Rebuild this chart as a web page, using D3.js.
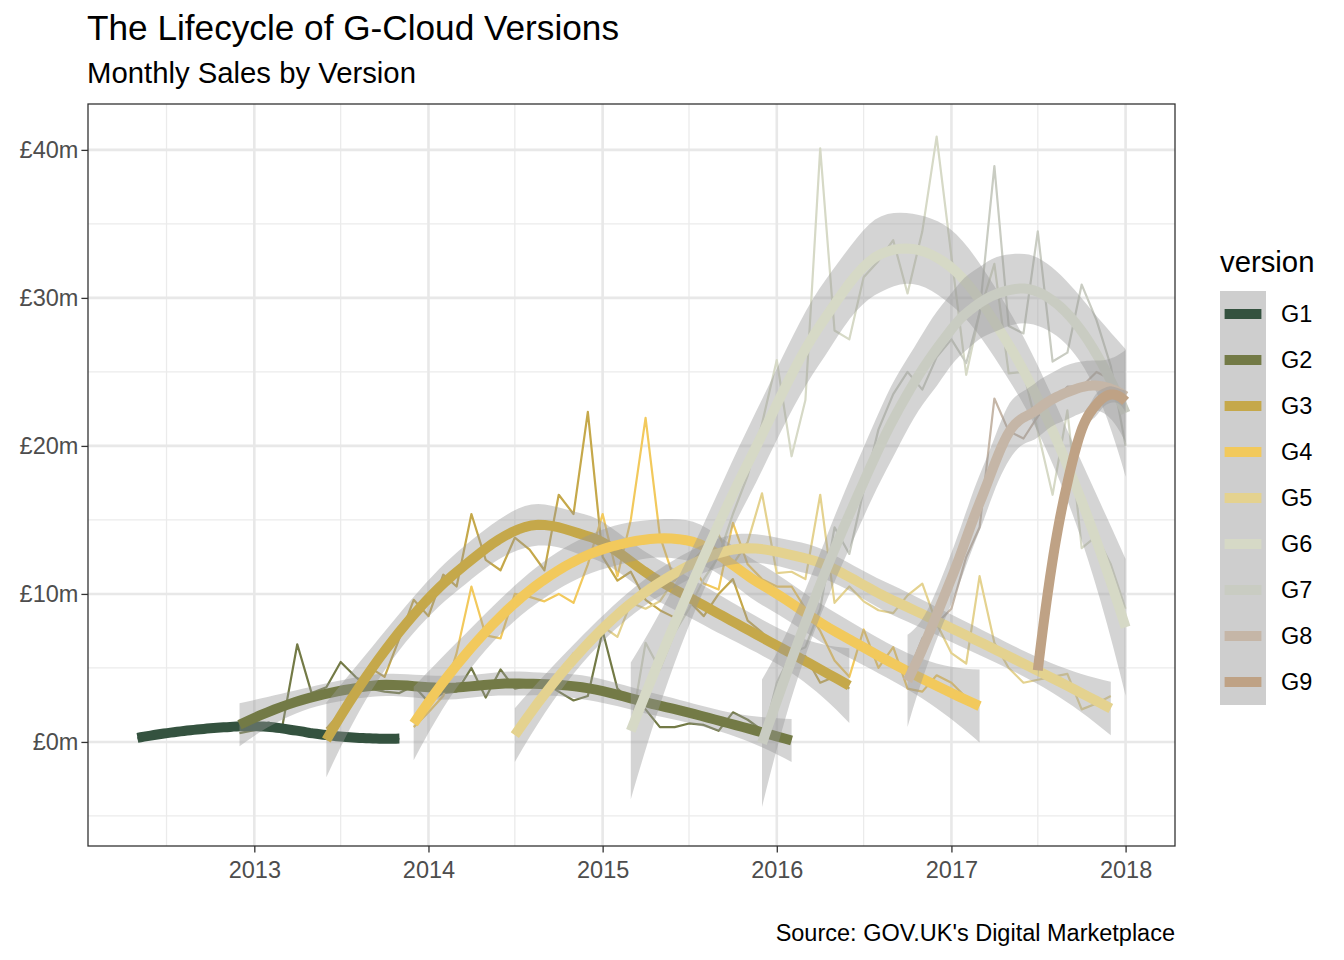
<!DOCTYPE html>
<html><head><meta charset="utf-8">
<script src="https://cdn.jsdelivr.net/npm/d3@7"></script>
<style>
body{margin:0;background:#fff}
text{font-family:"Liberation Sans",Arial,Helvetica,sans-serif}
</style>
</head><body>
<svg id="chart" width="1344" height="960"></svg>
<script>
// ---------------- data (monthly sales, £m) ----------------
const versions = ["G1","G2","G3","G4","G5","G6","G7","G8","G9"];
const colours  = ["#34523F","#737A46","#C5A84A","#F2C95C","#E4D28F","#D6D9C6","#C9CCC2","#C5B6A7","#BFA285"];
const firstMonth = ["2012-05","2012-12","2013-06","2013-12","2014-07","2015-03","2015-12","2016-10","2017-07"];

const g1Sales = [0.25,0.5,0.6,0.7,0.8,0.9,1.0,0.9,1.1,1.3,0.9,0.7,0.5,0.4,0.3,0.3,0.2,0.3,0.2];
const g2Sales = [0.6,0.8,1.0,1.1,6.6,3.3,3.7,5.4,4.4,3.6,3.4,3.3,3.8,2.7,3.3,3.4,5.0,3.0,4.9,3.6,3.8,4.0,3.4,2.8,3.1,7.5,3.6,2.8,2.2,1.0,1.0,1.25,1.15,0.75,2.0,1.5,0.8,0.5,0.2];
const g3Sales = [0.9,2.0,3.0,5.0,4.4,7.0,9.6,8.5,11.3,10.5,15.4,12.3,11.6,13.8,13.0,11.6,16.7,15.4,22.3,12.5,10.9,11.5,9.6,8.9,8.4,9.5,8.5,10.0,11.0,8.2,7.4,6.3,5.8,5.8,4.0,4.4,3.6];
const g4Sales = [1.0,2.0,3.1,6.0,10.5,7.2,7.0,10.0,9.8,9.5,10.0,9.4,12.0,15.4,11.2,15.0,21.9,13.9,10.9,12.2,10.7,10.3,14.8,12.0,11.0,10.5,10.5,9.0,7.5,5.5,4.4,7.6,5.0,6.4,3.6,3.4,4.5,4.0,3.0,2.5];
const g5Sales = [0.5,2.2,3.5,4.5,6.0,6.5,7.8,7.1,9.4,9.0,9.5,11.0,12.0,13.0,14.0,12.0,13.5,16.8,11.4,11.5,11.0,16.7,9.4,10.5,9.5,8.9,8.7,9.9,10.7,8.0,6.0,5.3,11.2,6.7,5.0,4.0,4.2,4.4,4.6,2.2,2.6,3.1];
const g6Sales = [0.8,6.7,4.9,7.4,9.0,11.0,12.5,15.4,18.0,21.5,25.8,19.3,23.1,40.1,27.8,27.2,31.4,32.5,33.9,30.3,34.5,40.9,32.8,24.8,29.0,32.3,24.9,25.0,21.0,16.7,22.4,13.1,13.9,12.0,9.0];
const g7Sales = [0.0,4.0,6.0,6.4,9.0,14.5,12.7,17.0,21.1,23.5,25.0,23.8,26.0,27.2,25.6,29.0,38.9,28.1,27.6,34.5,25.7,26.3,30.9,28.5,25.4,20.0];
const g8Sales = [4.5,7.0,8.0,9.0,12.5,14.5,23.2,21.0,20.5,22.0,23.0,24.0,24.0,25.0,24.5,22.5];
const g9Sales = [4.8,12.4,17.5,21.1,22.8,23.5,23.0];
const salesByVersion = [g1Sales,g2Sales,g3Sales,g4Sales,g5Sales,g6Sales,g7Sales,g8Sales,g9Sales];

const yTicks = [0,10,20,30,40];
const yMinor = [-5,5,15,25,35];
const yDomain = [-7.03, 43.1];

const titleText = "The Lifecycle of G-Cloud Versions";
const subtitleText = "Monthly Sales by Version";
const captionText = "Source: GOV.UK's Digital Marketplace";
const legendTitle = "version";

// ---------------- build series ----------------
const parseMonth = d3.timeParse("%Y-%m");
const series = versions.map((v,k)=>{
  const start = parseMonth(firstMonth[k]);
  return {version:v, colour:colours[k],
    points: salesByVersion[k].map((s,i)=>({date:d3.timeMonth.offset(start,i), value:s}))};
});

// ---------------- statistics helpers ----------------
function lgamma(z){
  const c=[0.99999999999980993,676.5203681218851,-1259.1392167224028,771.32342877765313,-176.61502916214059,12.507343278686905,-0.13857109526572012,9.9843695780195716e-6,1.5056327351493116e-7];
  if(z<0.5) return Math.log(Math.PI/Math.sin(Math.PI*z))-lgamma(1-z);
  z-=1; let x=c[0]; for(let i=1;i<9;i++) x+=c[i]/(z+i); const t=z+7.5;
  return 0.5*Math.log(2*Math.PI)+(z+0.5)*Math.log(t)-t+Math.log(x);
}
function betacf(a,b,x){
  const FP=1e-300; const qab=a+b,qap=a+1,qam=a-1; let c=1,d=1-qab*x/qap;
  if(Math.abs(d)<FP)d=FP; d=1/d; let h=d;
  for(let m=1;m<=400;m++){const m2=2*m; let aa=m*(b-m)*x/((qam+m2)*(a+m2));
    d=1+aa*d; if(Math.abs(d)<FP)d=FP; c=1+aa/c; if(Math.abs(c)<FP)c=FP; d=1/d; h*=d*c;
    aa=-(a+m)*(qab+m)*x/((a+m2)*(qap+m2));
    d=1+aa*d; if(Math.abs(d)<FP)d=FP; c=1+aa/c; if(Math.abs(c)<FP)c=FP; d=1/d; const del=d*c; h*=del;
    if(Math.abs(del-1)<3e-14)break;}
  return h;
}
function ibeta(a,b,x){
  if(x<=0)return 0; if(x>=1)return 1;
  const bt=Math.exp(lgamma(a+b)-lgamma(a)-lgamma(b)+a*Math.log(x)+b*Math.log(1-x));
  return x<(a+1)/(a+b+2)? bt*betacf(a,b,x)/a : 1-bt*betacf(b,a,1-x)/b;
}
function qt975(df){
  let lo=0,hi=2000;
  for(let i=0;i<200;i++){const t=(lo+hi)/2; const p=0.5*ibeta(df/2,0.5,df/(df+t*t)); if(p>0.025) lo=t; else hi=t;}
  return (lo+hi)/2;
}
function solve3(M,b){
  const A = M.map((r,i)=>r.concat([b[i]]));
  for(let c=0;c<3;c++){
    let p=c; for(let r=c+1;r<3;r++) if(Math.abs(A[r][c])>Math.abs(A[p][c])) p=r;
    [A[c],A[p]]=[A[p],A[c]];
    for(let r=0;r<3;r++){ if(r===c) continue; const f=A[r][c]/A[c][c]; for(let k=c;k<4;k++) A[r][k]-=f*A[c][k]; }
  }
  return [A[0][3]/A[0][0],A[1][3]/A[1][1],A[2][3]/A[2][2]];
}

// ---------------- loess (degree 2, span 0.75, kd-tree vertices + cubic interpolation) ----------------
const YEAR = 365.25*864e5;
function loess(xs, ys, evalXs, span){
  const n=xs.length, q=Math.floor(n*span), fc=Math.floor(n*span*0.2);
  function local(x0){
    const d=xs.map(x=>Math.abs(x-x0));
    const h=d.slice().sort((a,b)=>a-b)[q-1]*1.0001;
    const w=d.map(di=>{const u=di/h; return u<1?Math.pow(1-u*u*u,3):0;});
    const M=[[0,0,0],[0,0,0],[0,0,0]];
    xs.forEach((x,i)=>{const t=x-x0, v=[1,t,t*t];
      for(let a=0;a<3;a++) for(let b=0;b<3;b++) M[a][b]+=w[i]*v[a]*v[b];});
    const z=solve3(M,[1,0,0]), z1=solve3(M,[0,1,0]);
    return {l:xs.map((x,i)=>{const t=x-x0; return w[i]*(z[0]+z[1]*t+z[2]*t*t);}),
            d:xs.map((x,i)=>{const t=x-x0; return w[i]*(z1[0]+z1[1]*t+z1[2]*t*t);})};
  }
  const sx=xs.slice().sort((a,b)=>a-b);
  const mu=0.005*(sx[n-1]-sx[0]);
  const verts=[sx[0]-mu, sx[n-1]+mu];
  (function build(l,u,cLo,cHi){
    if(u-l+1<=fc) return;
    const m=Math.floor((l+u+2)/2)-1, v=sx[m];
    if(v===cLo||v===cHi) return;
    verts.push(v); build(l,m,cLo,v); build(m+1,u,v,cHi);
  })(0,n-1,sx[0]-mu,sx[n-1]+mu);
  verts.sort((a,b)=>a-b);
  const vops=verts.map(local);
  function op(x){
    let k=d3.bisectRight(verts,x)-1; k=Math.max(0,Math.min(verts.length-2,k));
    const v0=verts[k], v1=verts[k+1], h=v1-v0, u=(x-v0)/h;
    const phi0=(1-u)*(1-u)*(1+2*u), phi1=u*u*(3-2*u), psi0=u*(1-u)*(1-u), psi1=-u*u*(1-u);
    const A=vops[k], B=vops[k+1];
    return A.l.map((_,i)=>phi0*A.l[i]+phi1*B.l[i]+h*(psi0*A.d[i]+psi1*B.d[i]));
  }
  const L=xs.map(op);
  const fitted=L.map(r=>d3.sum(r,(l,j)=>l*ys[j]));
  const rss=d3.sum(ys,(y,i)=>(y-fitted[i])**2);
  const IL=L.map((r,i)=>r.map((l,j)=>(i===j?1:0)-l));
  const C=xs.map((_,i)=>xs.map((_,j)=>d3.sum(IL,r=>r[i]*r[j])));
  let d1=0,d2=0; C.forEach((r,i)=>{d1+=r[i]; r.forEach(c=>d2+=c*c);});
  const sigma=Math.sqrt(rss/d1), tq=qt975(d1*d1/d2);
  return evalXs.map(x0=>{const r=op(x0);
    const f=d3.sum(r,(l,j)=>l*ys[j]), se=sigma*Math.sqrt(d3.sum(r,l=>l*l));
    return {x:x0, y:f, lo:f-tq*se, hi:f+tq*se};});
}
series.forEach(s=>{
  const xs=s.points.map(p=>p.date.getTime()/YEAR), ys=s.points.map(p=>p.value);
  const x0=d3.min(xs), x1=d3.max(xs);
  const ev=d3.range(80).map(i=>x0+(x1-x0)*i/79);
  s.smooth=loess(xs,ys,ev,0.75).map(o=>({date:new Date(o.x*YEAR), y:o.y, lo:o.lo, hi:o.hi}));
});

// ---------------- layout ----------------
const svg=d3.select("#chart");
const P={left:88,right:1175,top:104,bottom:846};
const allDates=series.flatMap(s=>s.points.map(p=>p.date));
const dMin=d3.min(allDates), dMax=d3.max(allDates), pad=(dMax-dMin)*0.05;
const x=d3.scaleTime().domain([new Date(+dMin-pad),new Date(+dMax+pad)]).range([P.left,P.right]);
const y=d3.scaleLinear().domain(yDomain).range([P.bottom,P.top]);

svg.append("rect").attr("x",P.left).attr("y",P.top).attr("width",P.right-P.left).attr("height",P.bottom-P.top).attr("fill","#fff");
svg.append("defs").append("clipPath").attr("id","clip").append("rect")
  .attr("x",P.left).attr("y",P.top).attr("width",P.right-P.left).attr("height",P.bottom-P.top);

// grid
const yearTicks=d3.timeYear.range(d3.timeYear.ceil(x.domain()[0]),x.domain()[1]);
const halfYears=d3.timeYear.range(d3.timeYear.floor(x.domain()[0]),x.domain()[1]).map(d=>d3.timeMonth.offset(d,6))
  .filter(d=>d>=x.domain()[0]&&d<=x.domain()[1]);
const grid=svg.append("g");
grid.selectAll(".ymin").data(yMinor).join("line").attr("x1",P.left).attr("x2",P.right)
  .attr("y1",d=>y(d)).attr("y2",d=>y(d)).attr("stroke","#EBEBEB").attr("stroke-width",1.3);
grid.selectAll(".xmin").data(halfYears).join("line").attr("y1",P.top).attr("y2",P.bottom)
  .attr("x1",d=>x(d)).attr("x2",d=>x(d)).attr("stroke","#EBEBEB").attr("stroke-width",1.3);
grid.selectAll(".ymaj").data(yTicks).join("line").attr("x1",P.left).attr("x2",P.right)
  .attr("y1",d=>y(d)).attr("y2",d=>y(d)).attr("stroke","#E8E8E8").attr("stroke-width",2.6);
grid.selectAll(".xmaj").data(yearTicks).join("line").attr("y1",P.top).attr("y2",P.bottom)
  .attr("x1",d=>x(d)).attr("x2",d=>x(d)).attr("stroke","#E8E8E8").attr("stroke-width",2.6);

const plot=svg.append("g").attr("clip-path","url(#clip)");
const lineRaw=d3.line().x(d=>x(d.date)).y(d=>y(d.value));
const lineSm=d3.line().x(d=>x(d.date)).y(d=>y(d.y));
const area=d3.area().x(d=>x(d.date)).y0(d=>y(d.lo)).y1(d=>y(d.hi));

series.forEach(s=>{
  plot.append("path").attr("d",lineRaw(s.points)).attr("fill","none").attr("stroke",s.colour)
    .attr("stroke-width",2.2).attr("stroke-linejoin","round");
});
series.forEach(s=>{
  plot.append("path").attr("d",area(s.smooth)).attr("fill","#999999").attr("fill-opacity",0.42);
  plot.append("path").attr("d",lineSm(s.smooth)).attr("fill","none").attr("stroke",s.colour)
    .attr("stroke-width",10);
});

// panel border
svg.append("rect").attr("x",P.left).attr("y",P.top).attr("width",P.right-P.left).attr("height",P.bottom-P.top)
  .attr("fill","none").attr("stroke","#333333").attr("stroke-width",1.3);

// axes
const xAxis=svg.append("g").attr("transform",`translate(0,${P.bottom})`)
  .call(d3.axisBottom(x).tickValues(yearTicks).tickFormat(d3.timeFormat("%Y")).tickSize(6.6).tickPadding(9));
const yAxis=svg.append("g").attr("transform",`translate(${P.left},0)`)
  .call(d3.axisLeft(y).tickValues(yTicks).tickFormat(d=>`£${d}m`).tickSize(6.6).tickPadding(3));
[xAxis,yAxis].forEach(a=>{
  a.select(".domain").remove();
  a.selectAll(".tick line").attr("stroke","#333333").attr("stroke-width",1.3);
  a.selectAll(".tick text").attr("fill","#4D4D4D").style("font-size","23.5px")
   .style("font-family",'"Liberation Sans",Arial,Helvetica,sans-serif');
});

// titles
svg.append("text").attr("x",87).attr("y",40).text(titleText).style("font-size","35.2px").attr("fill","#000");
svg.append("text").attr("x",87).attr("y",83).text(subtitleText).style("font-size","29.3px").attr("fill","#000");
svg.append("text").attr("x",1175).attr("y",941).attr("text-anchor","end").text(captionText).style("font-size","23.5px").attr("fill","#000");

// legend
const lg=svg.append("g");
lg.append("text").attr("x",1220).attr("y",272).text(legendTitle).style("font-size","29.3px").attr("fill","#000");
const keyH=46, keyW=46, ky0=291, kx=1220;
series.forEach((s,i)=>{
  const yy=ky0+i*keyH;
  lg.append("rect").attr("x",kx).attr("y",yy).attr("width",keyW).attr("height",keyH).attr("fill","#F2F2F2");
  lg.append("rect").attr("x",kx).attr("y",yy).attr("width",keyW).attr("height",keyH).attr("fill","#999999").attr("fill-opacity",0.4);
  lg.append("line").attr("x1",kx+keyW*0.1).attr("x2",kx+keyW*0.9).attr("y1",yy+keyH/2).attr("y2",yy+keyH/2)
    .attr("stroke",s.colour).attr("stroke-width",10);
  lg.append("text").attr("x",1281).attr("y",yy+keyH/2).attr("dy","0.35em").text(s.version)
    .style("font-size","23.5px").attr("fill","#000");
});
</script>
</body></html>
